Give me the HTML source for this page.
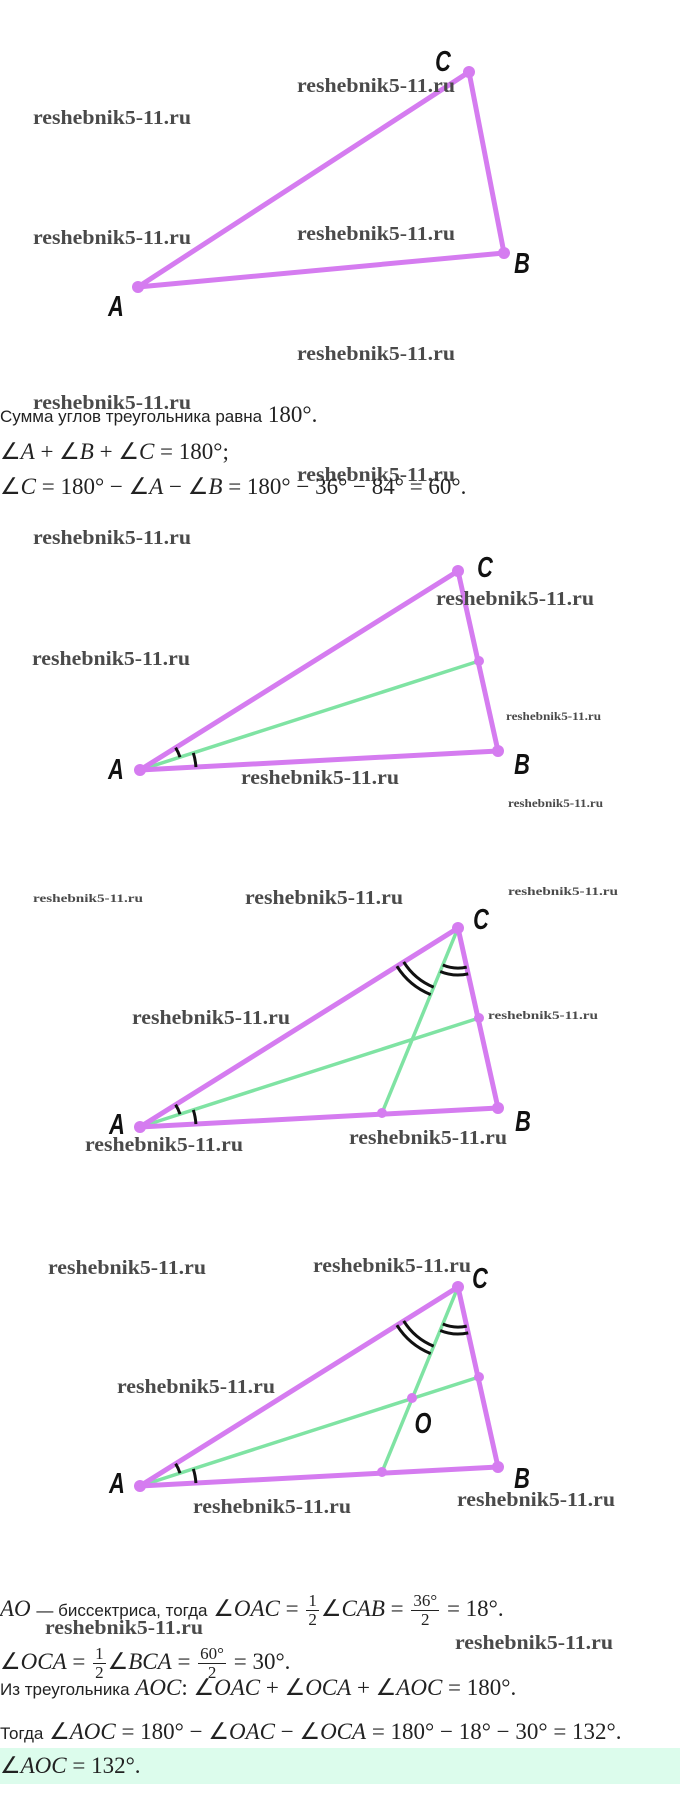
<!DOCTYPE html>
<html><head><meta charset="utf-8">
<style>
html,body{margin:0;padding:0;background:#fff;}
body{width:680px;height:1817px;position:relative;overflow:hidden;}
svg{position:absolute;left:0;top:0;}
.ln{position:absolute;left:0;white-space:nowrap;font-family:"Liberation Serif",serif;font-size:23px;color:#222;line-height:26px;}
.ru{font-family:"Liberation Sans",sans-serif;font-size:17px;color:#222;}
i{font-style:italic;}
.fr{display:inline-block;vertical-align:middle;text-align:center;line-height:18px;margin:0 2px;}
.fr span{display:block;}
.fr .num{border-bottom:1px solid #222;padding:0 2px;}
.sm{font-size:17px;}
</style></head><body>
<svg width="680" height="1817" viewBox="0 0 680 1817" xmlns="http://www.w3.org/2000/svg">
<defs>
<style>
.w{font-family:"Liberation Serif",serif;font-weight:bold;font-size:20px;fill:#4a4a4a;}
.ws{font-family:"Liberation Serif",serif;font-weight:bold;font-size:12px;fill:#4a4a4a;}
.lb{font-family:"Liberation Sans",sans-serif;font-weight:bold;font-style:italic;font-size:29px;fill:#111;}
.p{stroke:#d57cf0;stroke-width:5;fill:none;stroke-linecap:round;}
.g{stroke:#7fe3a3;stroke-width:3.5;fill:none;}
.k{stroke:#111;stroke-width:3;fill:none;}
.d{fill:#d57cf0;}
</style>
</defs>
<!-- T1 -->
<polygon class="p" points="138,287 504,253 469,72" stroke-linejoin="round"/>
<circle class="d" cx="138" cy="287" r="6"/><circle class="d" cx="504" cy="253" r="6"/><circle class="d" cx="469" cy="72" r="6"/>
<text class="lb" transform="translate(443,71) scale(0.75,1)" text-anchor="middle">C</text>
<text class="lb" transform="translate(522,273) scale(0.75,1)" text-anchor="middle">B</text>
<text class="lb" transform="translate(116,316) scale(0.75,1)" text-anchor="middle">A</text>

<!-- T2 -->
<g transform="translate(140,770)">
<line class="g" x1="0" y1="0" x2="339" y2="-109"/>
<polygon class="p" points="0,0 358,-19 318,-199" stroke-linejoin="round"/>
<path class="k" d="M35.6,-22.3 A42,42 0 0 1 40,-12.8"/>
<path class="k" d="M53.3,-17.1 A56,56 0 0 1 55.9,-2.9"/>
<circle class="d" cx="0" cy="0" r="6"/><circle class="d" cx="358" cy="-19" r="6"/><circle class="d" cx="318" cy="-199" r="6"/><circle class="d" cx="339" cy="-109" r="5"/>
</g>
<text class="lb" transform="translate(485,577) scale(0.75,1)" text-anchor="middle">C</text>
<text class="lb" transform="translate(522,774) scale(0.75,1)" text-anchor="middle">B</text>
<text class="lb" transform="translate(116,779) scale(0.75,1)" text-anchor="middle">A</text>

<!-- T3 -->
<g transform="translate(140,1127)">
<line class="g" x1="0" y1="0" x2="339" y2="-109"/>
<line class="g" x1="318" y1="-199" x2="242" y2="-14"/>
<polygon class="p" points="0,0 358,-19 318,-199" stroke-linejoin="round"/>
<path class="k" d="M35.6,-22.3 A42,42 0 0 1 40,-12.8"/>
<path class="k" d="M53.3,-17.1 A56,56 0 0 1 55.9,-2.9"/>
<g transform="translate(318,-199)">
<path class="k" d="M-24.3,59.2 A64,64 0 0 1 -54.3,33.9"/>
<path class="k" d="M-27.3,66.6 A72,72 0 0 1 -61.1,38.2"/>
<path class="k" d="M8.7,39.1 A40,40 0 0 1 -15.2,37"/>
<path class="k" d="M10.2,45.9 A47,47 0 0 1 -17.8,43.5"/>
</g>
<circle class="d" cx="0" cy="0" r="6"/><circle class="d" cx="358" cy="-19" r="6"/><circle class="d" cx="318" cy="-199" r="6"/><circle class="d" cx="339" cy="-109" r="5"/><circle class="d" cx="242" cy="-14" r="5"/>
</g>
<text class="lb" transform="translate(481,929) scale(0.75,1)" text-anchor="middle">C</text>
<text class="lb" transform="translate(523,1131) scale(0.75,1)" text-anchor="middle">B</text>
<text class="lb" transform="translate(117,1134) scale(0.75,1)" text-anchor="middle">A</text>

<!-- T4 -->
<g transform="translate(140,1486)">
<line class="g" x1="0" y1="0" x2="339" y2="-109"/>
<line class="g" x1="318" y1="-199" x2="242" y2="-14"/>
<polygon class="p" points="0,0 358,-19 318,-199" stroke-linejoin="round"/>
<path class="k" d="M35.6,-22.3 A42,42 0 0 1 40,-12.8"/>
<path class="k" d="M53.3,-17.1 A56,56 0 0 1 55.9,-2.9"/>
<g transform="translate(318,-199)">
<path class="k" d="M-24.3,59.2 A64,64 0 0 1 -54.3,33.9"/>
<path class="k" d="M-27.3,66.6 A72,72 0 0 1 -61.1,38.2"/>
<path class="k" d="M8.7,39.1 A40,40 0 0 1 -15.2,37"/>
<path class="k" d="M10.2,45.9 A47,47 0 0 1 -17.8,43.5"/>
</g>
<circle class="d" cx="0" cy="0" r="6"/><circle class="d" cx="358" cy="-19" r="6"/><circle class="d" cx="318" cy="-199" r="6"/><circle class="d" cx="339" cy="-109" r="5"/><circle class="d" cx="242" cy="-14" r="5"/><circle class="d" cx="272" cy="-88" r="5"/>
</g>
<text class="lb" transform="translate(480,1288) scale(0.75,1)" text-anchor="middle">C</text>
<text class="lb" transform="translate(522,1488) scale(0.75,1)" text-anchor="middle">B</text>
<text class="lb" transform="translate(117,1493) scale(0.75,1)" text-anchor="middle">A</text>
<text class="lb" transform="translate(423,1433) scale(0.75,1)" text-anchor="middle">O</text>

<!-- watermarks -->
<g>
<text class="w" x="33" y="124" textLength="158" lengthAdjust="spacingAndGlyphs">reshebnik5-11.ru</text>
<text class="w" x="297" y="92" textLength="158" lengthAdjust="spacingAndGlyphs">reshebnik5-11.ru</text>
<text class="w" x="33" y="244" textLength="158" lengthAdjust="spacingAndGlyphs">reshebnik5-11.ru</text>
<text class="w" x="297" y="240" textLength="158" lengthAdjust="spacingAndGlyphs">reshebnik5-11.ru</text>
<text class="w" x="297" y="360" textLength="158" lengthAdjust="spacingAndGlyphs">reshebnik5-11.ru</text>
<text class="w" x="33" y="409" textLength="158" lengthAdjust="spacingAndGlyphs">reshebnik5-11.ru</text>
<text class="w" x="297" y="481" textLength="158" lengthAdjust="spacingAndGlyphs">reshebnik5-11.ru</text>
<text class="w" x="33" y="544" textLength="158" lengthAdjust="spacingAndGlyphs">reshebnik5-11.ru</text>
<text class="w" x="436" y="605" textLength="158" lengthAdjust="spacingAndGlyphs">reshebnik5-11.ru</text>
<text class="w" x="32" y="665" textLength="158" lengthAdjust="spacingAndGlyphs">reshebnik5-11.ru</text>
<text class="w" x="241" y="784" textLength="158" lengthAdjust="spacingAndGlyphs">reshebnik5-11.ru</text>
<text class="w" x="245" y="904" textLength="158" lengthAdjust="spacingAndGlyphs">reshebnik5-11.ru</text>
<text class="w" x="132" y="1024" textLength="158" lengthAdjust="spacingAndGlyphs">reshebnik5-11.ru</text>
<text class="w" x="85" y="1151" textLength="158" lengthAdjust="spacingAndGlyphs">reshebnik5-11.ru</text>
<text class="w" x="349" y="1144" textLength="158" lengthAdjust="spacingAndGlyphs">reshebnik5-11.ru</text>
<text class="w" x="48" y="1274" textLength="158" lengthAdjust="spacingAndGlyphs">reshebnik5-11.ru</text>
<text class="w" x="313" y="1272" textLength="158" lengthAdjust="spacingAndGlyphs">reshebnik5-11.ru</text>
<text class="w" x="117" y="1393" textLength="158" lengthAdjust="spacingAndGlyphs">reshebnik5-11.ru</text>
<text class="w" x="193" y="1513" textLength="158" lengthAdjust="spacingAndGlyphs">reshebnik5-11.ru</text>
<text class="w" x="457" y="1506" textLength="158" lengthAdjust="spacingAndGlyphs">reshebnik5-11.ru</text>
<text class="w" x="45" y="1634" textLength="158" lengthAdjust="spacingAndGlyphs">reshebnik5-11.ru</text>
<text class="w" x="455" y="1649" textLength="158" lengthAdjust="spacingAndGlyphs">reshebnik5-11.ru</text>
<text class="ws" x="506" y="720" textLength="95" lengthAdjust="spacingAndGlyphs">reshebnik5-11.ru</text>
<text class="ws" x="508" y="807" textLength="95" lengthAdjust="spacingAndGlyphs">reshebnik5-11.ru</text>
<text class="ws" x="33" y="902" textLength="110" lengthAdjust="spacingAndGlyphs">reshebnik5-11.ru</text>
<text class="ws" x="508" y="895" textLength="110" lengthAdjust="spacingAndGlyphs">reshebnik5-11.ru</text>
<text class="ws" x="488" y="1019" textLength="110" lengthAdjust="spacingAndGlyphs">reshebnik5-11.ru</text>
</g>
</svg>

<div style="position:absolute;left:0;top:1748px;width:680px;height:36px;background:#dcfcec;"></div>

<div class="ln" style="top:402px;"><span class="ru">Сумма углов треугольника равна</span> 180°.</div>
<div class="ln" style="top:439px;">∠<i>A</i> + ∠<i>B</i> + ∠<i>C</i> = 180°;</div>
<div class="ln" style="top:474px;">∠<i>C</i> = 180° − ∠<i>A</i> − ∠<i>B</i> = 180° − 36° − 84° = 60°.</div>

<div class="ln" style="top:1592px;"><i>AO</i> <span class="ru">— биссектриса, тогда</span> ∠<i>OAC</i> = <span class="fr sm"><span class="num">1</span><span>2</span></span>∠<i>CAB</i> = <span class="fr sm"><span class="num">36°</span><span>2</span></span> = 18°.</div>
<div class="ln" style="top:1645px;">∠<i>OCA</i> = <span class="fr sm"><span class="num">1</span><span>2</span></span>∠<i>BCA</i> = <span class="fr sm"><span class="num">60°</span><span>2</span></span> = 30°.</div>
<div class="ln" style="top:1675px;"><span class="ru">Из треугольника</span> <i>AOC</i>: ∠<i>OAC</i> + ∠<i>OCA</i> + ∠<i>AOC</i> = 180°.</div>
<div class="ln" style="top:1719px;"><span class="ru">Тогда</span> ∠<i>AOC</i> = 180° − ∠<i>OAC</i> − ∠<i>OCA</i> = 180° − 18° − 30° = 132°.</div>
<div class="ln" style="top:1753px;">∠<i>AOC</i> = 132°.</div>
</body></html>
